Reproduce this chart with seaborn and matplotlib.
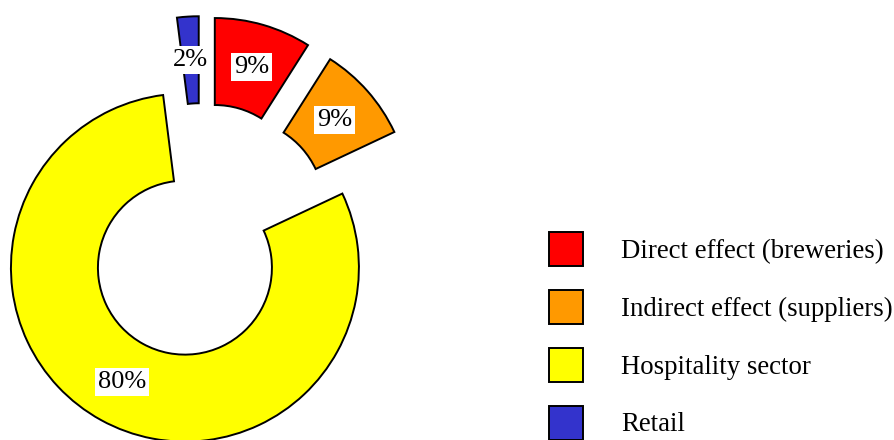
import matplotlib.pyplot as plt
import seaborn as sns

# data
sectors = ['Direct effect (breweries)', 'Indirect effect (suppliers)',
           'Hospitality sector', 'Retail']
shares = [9, 9, 80, 2]
colors = ['#ff0000', '#ff9900', '#ffff00', '#3333cc']
explode = [0.27, 0.27, 0.2, 0.27]

sns.set_theme(style='white')
plt.rcParams['font.family'] = ['Liberation Serif', 'DejaVu Serif']

fig = plt.figure(figsize=(8.94, 4.40), dpi=100)
ax = fig.add_axes([0, 0, 1, 1])

wedges, texts, autotexts = ax.pie(
    shares, colors=colors, explode=explode, startangle=90, counterclock=False,
    autopct='%.0f%%', pctdistance=0.75,
    wedgeprops=dict(width=0.5, edgecolor='black', linewidth=1.4),
    textprops=dict(fontsize=19, color='black'))
for t in autotexts:
    t.set_bbox(dict(facecolor='white', edgecolor='none', pad=2))

ax.set_xlim(-1.159, 3.979)
ax.set_ylim(-1.166, 1.363)

ax.legend(wedges, sectors, loc='upper left',
          bbox_to_anchor=(549 / 894, 1 - 232 / 440),
          bbox_transform=fig.transFigure, frameon=False, fontsize=19.3,
          labelcolor='black',
          handlelength=1.27, handleheight=1.576, labelspacing=0.89,
          handletextpad=1.41, borderpad=0, borderaxespad=0)

fig.savefig('out.png', dpi=100)
